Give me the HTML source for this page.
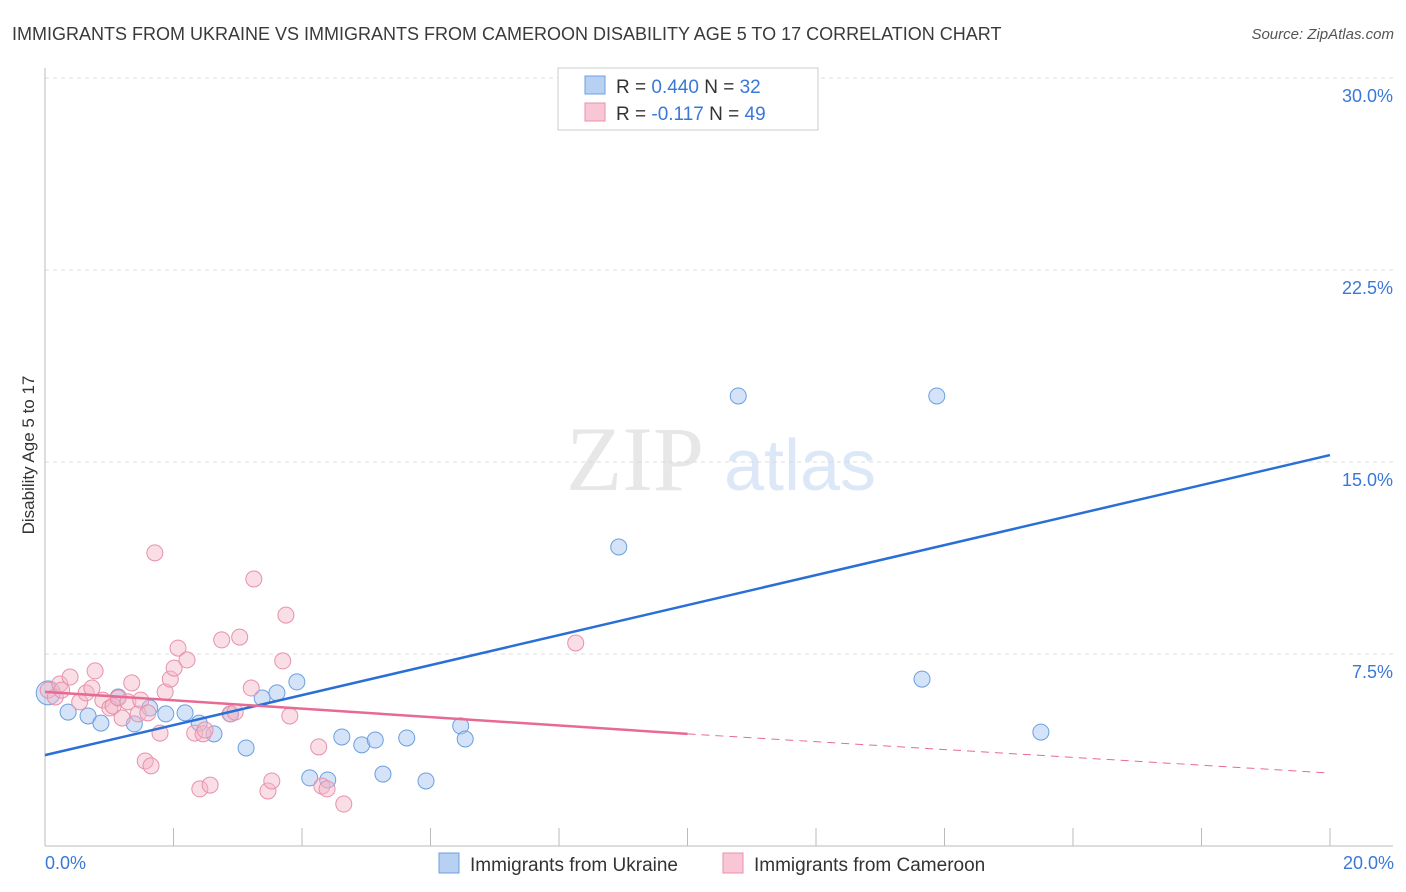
<!DOCTYPE html>
<html><head><meta charset="utf-8"><style>
body{margin:0;background:#fff;font-family:"Liberation Sans",sans-serif;}
svg{display:block}
</style></head><body>
<svg width="1406" height="892" viewBox="0 0 1406 892">
<text x="12" y="40" font-size="18" fill="#3a3a3a">IMMIGRANTS FROM UKRAINE VS IMMIGRANTS FROM CAMEROON DISABILITY AGE 5 TO 17 CORRELATION CHART</text>
<text x="1394" y="39" font-size="15" fill="#555" font-style="italic" text-anchor="end">Source: ZipAtlas.com</text>
<g id="grid"></g>
<g><text x="635" y="490" font-size="92" fill="#d8d8d8" font-family="Liberation Serif,serif" text-anchor="middle" opacity="0.6">ZIP</text><text x="800" y="490" font-size="72" fill="#c6daf2" text-anchor="middle" opacity="0.6">atlas</text></g>
<g id="axes"></g>
<g id="marks"></g>
<text x="34" y="455" font-size="17" fill="#333" text-anchor="middle" transform="rotate(-90 34 455)">Disability Age 5 to 17</text>
<text x="45" y="869" font-size="18" fill="#3a78d8">0.0%</text>
<text x="1394" y="869" font-size="18" fill="#3a78d8" text-anchor="end">20.0%</text>
<g>
<rect x="558" y="68" width="260" height="62" fill="#fff" stroke="#ccc"/>
<rect x="585" y="76" width="20" height="18" fill="#b8d1f3" stroke="#6a9fe0"/>
<rect x="585" y="103" width="20" height="18" fill="#f9c6d5" stroke="#e890ab"/>
<text x="616" y="93" font-size="19" fill="#333">R = <tspan fill="#3a78d8">0.440</tspan>   N = <tspan fill="#3a78d8">32</tspan></text>
<text x="616" y="120" font-size="19" fill="#333">R = <tspan fill="#3a78d8">-0.117</tspan>   N = <tspan fill="#3a78d8">49</tspan></text>
</g>
<g>
<rect x="439" y="853" width="20" height="20" fill="#b8d1f3" stroke="#6a9fe0"/>
<text x="470" y="871" font-size="19" fill="#333">Immigrants from Ukraine</text>
<rect x="723" y="853" width="20" height="20" fill="#f9c6d5" stroke="#e890ab"/>
<text x="754" y="871" font-size="19" fill="#333">Immigrants from Cameroon</text>
</g>
</svg>
<script>
const yTicks=[7.5,15,22.5,30];
const yTickLabels=["7.5%","15.0%","22.5%","30.0%"];
const xTicks=[0,2,4,6,8,10,12,14,16,18,20];
const ukraineX=[0.05,0.36,0.67,0.87,1.14,1.39,1.63,1.88,2.18,2.40,2.63,2.89,3.13,3.38,3.61,3.92,4.12,4.40,4.62,4.93,5.14,5.26,5.63,5.93,6.47,6.54,8.30,8.93,10.79,13.88,13.65,15.50];
const ukraineY=[5.98,5.23,5.08,4.80,5.82,4.77,5.39,5.16,5.20,4.80,4.38,5.16,3.83,5.78,5.98,6.41,2.66,2.58,4.26,3.95,4.14,2.81,4.22,2.54,4.69,4.18,28.40,11.68,17.58,17.58,6.52,4.45];
const cameroonX=[0.05,0.16,0.23,0.26,0.39,0.54,0.64,0.73,0.78,0.90,1.01,1.06,1.14,1.20,1.29,1.35,1.45,1.49,1.56,1.60,1.65,1.71,1.79,1.87,1.95,2.01,2.07,2.21,2.33,2.41,2.46,2.49,2.57,2.75,2.88,2.96,3.03,3.21,3.25,3.47,3.53,3.70,3.75,3.81,4.26,4.31,4.39,4.65,8.26];
const cameroonY=[6.09,5.82,6.33,6.09,6.60,5.63,5.98,6.17,6.84,5.70,5.39,5.47,5.78,5.00,5.63,6.37,5.16,5.70,3.32,5.20,3.13,11.45,4.41,6.02,6.52,6.95,7.73,7.27,4.41,2.23,4.38,4.53,2.38,8.05,5.16,5.23,8.16,6.17,10.43,2.15,2.54,7.23,9.02,5.08,3.87,2.34,2.23,1.64,7.93];
const ukraineTrend=[3.55,15.27];
const cameroonTrend=[6.02,4.38,2.85];
const NS="http://www.w3.org/2000/svg";
const X=v=>45+v/20*1285, Y=v=>846-v*25.6;
function mk(p,t,a){const e=document.createElementNS(NS,t);for(const k in a)e.setAttribute(k,a[k]);p.appendChild(e);return e;}
const grid=document.getElementById('grid'),axes=document.getElementById('axes'),marks=document.getElementById('marks');
yTicks.forEach((t,i)=>{
 const l=mk(grid,'line',{x1:45,x2:1393,y1:Y(t),y2:Y(t),stroke:'#ddd','stroke-dasharray':'4,4'});
 
 
 const tx=mk(axes,'text',{x:1393,y:Y(t)+24,'font-size':18,fill:'#3a78d8','text-anchor':'end'});
 tx.textContent=yTickLabels[i];
 
 
});
mk(axes,'line',{x1:45,x2:45,y1:68,y2:846,stroke:'#bbb'});
mk(axes,'line',{x1:45,x2:1393,y1:846,y2:846,stroke:'#bbb'});
xTicks.forEach(t=>{
 const l=mk(axes,'line',{x1:X(t),x2:X(t),y1:828,y2:846,stroke:'#bbb'});
 
 
});
ukraineX.forEach((x,i)=>{
 const c=mk(marks,'circle',{cx:X(x),cy:Y(ukraineY[i]),r:i===0?12:8,fill:'rgba(169,200,240,0.5)',stroke:'#6a9fe0','stroke-width':1});
 
 
});
cameroonX.forEach((x,i)=>{
 const c=mk(marks,'circle',{cx:X(x),cy:Y(cameroonY[i]),r:8,fill:'rgba(245,181,200,0.45)',stroke:'#e890ab','stroke-width':1});
 
 
});
const bl=mk(marks,'line',{x1:X(0),y1:Y(ukraineTrend[0]),x2:X(20),y2:Y(ukraineTrend[1]),stroke:'#2a6fd6','stroke-width':2.5});


const pl=mk(marks,'line',{x1:X(0),y1:Y(cameroonTrend[0]),x2:X(10),y2:Y(cameroonTrend[1]),stroke:'#e86a93','stroke-width':2.5});


const pd=mk(marks,'line',{x1:X(10),y1:Y(cameroonTrend[1]),x2:X(20),y2:Y(cameroonTrend[2]),stroke:'#e86a93','stroke-width':1,'stroke-dasharray':'8,6'});


</script>
</body></html>
